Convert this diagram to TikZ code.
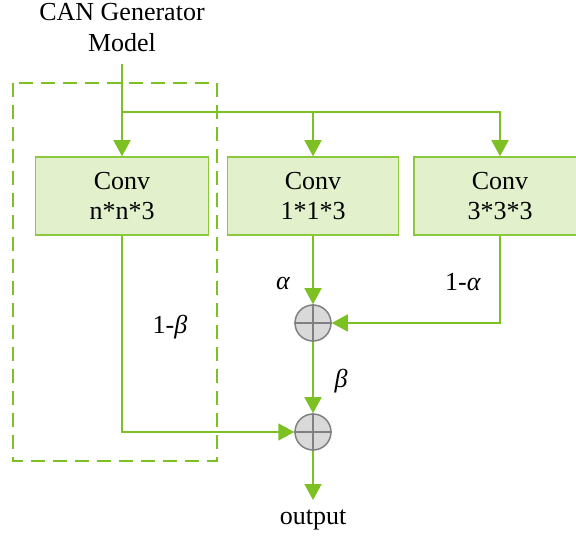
\documentclass[tikz,border=0pt]{standalone}
\usepackage{fontspec}
\setmainfont{Liberation Serif}
\usetikzlibrary{arrows.meta}
\definecolor{lgreen}{RGB}{125,192,36}
\definecolor{boxfill}{RGB}{226,241,204}
\definecolor{boxline}{RGB}{140,200,60}
\definecolor{sumfill}{RGB}{217,217,217}
\definecolor{sumline}{RGB}{128,128,128}
\tikzset{
  convbox/.style={draw=boxline, fill=boxfill, line width=1.5pt, minimum height=78pt, align=center, font=\fontsize{26}{30}\selectfont, inner sep=0pt},
  sumnode/.style={circle, draw=sumline, fill=sumfill, line width=1.5pt, minimum size=36pt, inner sep=0pt},
  conn/.style={draw=lgreen, line width=1.6pt, -{Triangle[length=16pt,width=17pt,fill=lgreen]}},
  plain/.style={draw=lgreen, line width=1.6pt},
  lbl/.style={font=\fontsize{26}{30}\selectfont, inner sep=0pt},
}
\begin{document}
\begin{tikzpicture}[x=1pt,y=-1pt]
\useasboundingbox (0,0) rectangle (576,537);
% dashed group
\draw[draw=lgreen, line width=1.6pt, dash pattern=on 14pt off 8pt] (13,83) rectangle (217,461);
% title
\node[lbl, align=center, font=\fontsize{26}{31}\selectfont] (title) at (122,28) {CAN Generator\\Model};
% boxes
\node[convbox, minimum width=173pt] (c1) at (122,196) {Conv\\n*n*3};
\node[convbox, minimum width=171pt] (c2) at (313,196) {Conv\\1*1*3};
\node[convbox, minimum width=172pt] (c3) at (500,196) {Conv\\3*3*3};
% sums
\node[sumnode] (s1) at (313,323) {};
\node[sumnode] (s2) at (313,432) {};
\foreach \s in {s1,s2}{
  \draw[sumline, line width=1.5pt] (\s.north) -- (\s.south) (\s.west) -- (\s.east);
}
% input
\coordinate (in) at (122,64);
\coordinate (j) at (122,112);
\draw[conn] (in) -- (c1.north);
\draw[plain] (j) -- (500,112);
\draw[conn] (j) -| (c2.north);
\draw[conn] (j) -| (c3.north);
% paths
\draw[conn] (c2.south) -- (s1.north);
\draw[conn] (c3.south) |- (s1.east);
\draw[conn] (s1.south) -- (s2.north);
\draw[conn] (c1.south) |- (s2.west);
\coordinate (o) at (313,500);
\draw[conn] (s2.south) -- (o);
\node[lbl] (out) at (313,520) {output};
% labels
\node[lbl] (la) at (283,284) {\itshape α};
\node[lbl] (l1a) at (463,282) {1-\textit{α}};
\node[lbl] (lb) at (341,381) {\itshape β};
\node[lbl] (l1b) at (170,327) {1-\textit{β}};
\end{tikzpicture}
\end{document}
